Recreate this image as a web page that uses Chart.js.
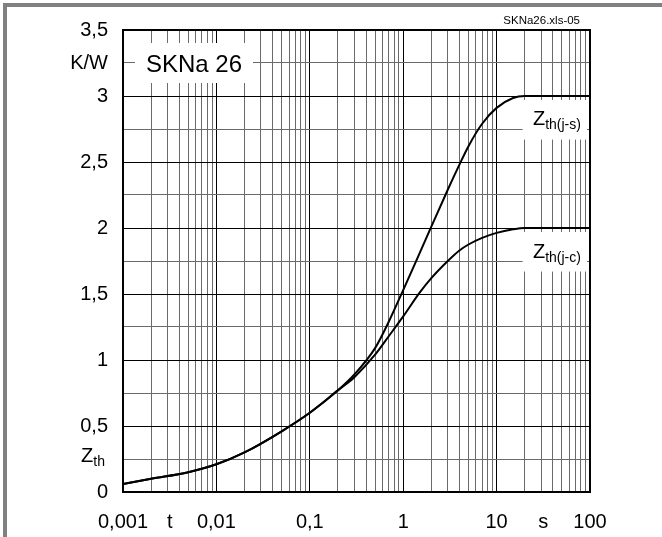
<!DOCTYPE html>
<html>
<head>
<meta charset="utf-8">
<script src="https://cdn.jsdelivr.net/npm/chart.js@4"></script>
<style>
  html, body { margin: 0; padding: 0; background: #fff; }
  #wrap { position: relative; width: 662px; height: 537px; overflow: hidden; }
  #frame { position: absolute; left: 3px; top: 3px; right: -10px; bottom: -10px;
           border-top: 4px solid #808080; border-left: 4px solid #808080; pointer-events: none; }
</style>
</head>
<body>
<div id="wrap">
  <canvas id="zthChart" width="662" height="537"></canvas>
  <div id="frame"></div>
</div>
<script>
(() => {

    // --------- data ---------
    const timeS  = [0.001, 0.002, 0.005, 0.01, 0.02, 0.05, 0.1, 0.2, 0.3, 0.5, 0.7, 1, 1.5, 2, 3, 4, 5, 7, 10, 15, 20, 50, 100];
    const zthJS  = [0.06, 0.10, 0.15, 0.21, 0.30, 0.46, 0.60, 0.77, 0.89, 1.09, 1.29, 1.53, 1.81, 2.01, 2.29, 2.48, 2.62, 2.79, 2.91, 2.985, 3.0, 3.0, 3.0];
    const zthJC  = [0.06, 0.10, 0.15, 0.21, 0.30, 0.46, 0.60, 0.77, 0.87, 1.04, 1.18, 1.33, 1.51, 1.62, 1.75, 1.83, 1.875, 1.925, 1.963, 1.99, 2.0, 2.0, 2.0];

    const xDecades   = [0.001, 0.01, 0.1, 1, 10, 100];
    const xDecLabels = ['0,001', '0,01', '0,1', '1', '10', '100'];
    const xUnitTicks = [0.00316, 31.6];     // where "t" and "s" sit
    const xUnitLabels = ['t', 's'];

    const FONT = '"Liberation Sans", Arial, sans-serif';

    const isDecade = v => Math.abs(Math.log10(v) - Math.round(Math.log10(v))) < 1e-6;

    // grid positions 1..9 per decade
    const gridTicks = [];
    for (let e = -3; e <= 1; e++) {
        for (let m = 1; m <= 9; m++) gridTicks.push(m * Math.pow(10, e));
    }
    gridTicks.push(100);

    const decor = {
        id: 'decor',
        beforeDraw(chart) {
            const c = chart.ctx;
            c.save();
            c.fillStyle = '#fff';
            c.fillRect(0, 0, chart.width, chart.height);
            c.restore();
        },
        beforeDatasetsDraw(chart) {
            const c = chart.ctx, x = chart.scales.x, y = chart.scales.y;
            c.save();
            c.fillStyle = '#fff';
            // SKNa 26 box
            c.fillRect(135, 43, 118, 40);
            // series label boxes
            const bx = x.getPixelForValue(19), bw = x.getPixelForValue(93) - bx;
            [[2.97, 2.67], [1.97, 1.67]].forEach(([t, b]) => {
                const top = y.getPixelForValue(t);
                c.fillRect(bx, top, bw, y.getPixelForValue(b) - top);
            });
            c.restore();
        },
        afterDraw(chart) {
            const c = chart.ctx, a = chart.chartArea, x = chart.scales.x, y = chart.scales.y;
            c.save();
            // plot frame
            c.strokeStyle = '#000';
            c.lineWidth = 2;
            c.strokeRect(a.left, a.top, a.right - a.left, a.bottom - a.top);

            c.fillStyle = '#000';
            c.textBaseline = 'alphabetic';

            // title box text
            c.font = '24px ' + FONT;
            c.textAlign = 'center';
            c.fillText('SKNa 26', 194, 72);

            // file tag
            c.font = '11.5px ' + FONT;
            c.textAlign = 'right';
            c.fillText('SKNa26.xls-05', 580, 24);

            // Z with subscript helper
            const zsub = (x0, yb, sub, big, small) => {
                c.textAlign = 'left';
                c.font = big + 'px ' + FONT;
                c.fillText('Z', x0, yb);
                const w = c.measureText('Z').width;
                c.font = small + 'px ' + FONT;
                c.fillText(sub, x0 + w, yb + 4);
            };
            const lx = x.getPixelForValue(24.5);
            zsub(lx, y.getPixelForValue(2.78), 'th(j-s)', 20, 14);
            zsub(lx, y.getPixelForValue(1.77), 'th(j-c)', 20, 14);

            // y axis quantity label Z_th (right aligned with tick labels)
            c.font = '20px ' + FONT;
            const wz = c.measureText('Z').width;
            c.font = '14px ' + FONT;
            const wt = c.measureText('th').width;
            zsub(105 - wz - wt, y.getPixelForValue(0.25) + 3, 'th', 20, 14);
            c.restore();
        }
    };

    const chartEl = document.getElementById('zthChart');
    new Chart(chartEl, {
        type: 'line',
        data: {
            datasets: [
                {
                    label: 'Zth(j-s)',
                    data: timeS.map((t, i) => ({ x: t, y: zthJS[i] })),
                    borderColor: '#000',
                    borderWidth: 2,
                    pointRadius: 0,
                    cubicInterpolationMode: 'monotone'
                },
                {
                    label: 'Zth(j-c)',
                    data: timeS.map((t, i) => ({ x: t, y: zthJC[i] })),
                    borderColor: '#000',
                    borderWidth: 2,
                    pointRadius: 0,
                    cubicInterpolationMode: 'monotone'
                }
            ]
        },
        options: {
            responsive: false,
            animation: false,
            layout: { padding: { left: 0, top: 30, right: 72, bottom: 0 } },
            plugins: { legend: { display: false }, tooltip: { enabled: false } },
            scales: {
                x: {
                    type: 'logarithmic',
                    min: 0.001,
                    max: 100,
                    afterBuildTicks: s => {
                        s.ticks = gridTicks.concat(xUnitTicks).map(v => ({ value: v }));
                    },
                    afterFit: s => { s.height = 45; },
                    grid: {
                        drawTicks: false,
                        lineWidth: 1,
                        color: ctx => {
                            const v = ctx.tick && ctx.tick.value;
                            if (!v || xUnitTicks.includes(v)) return 'rgba(0,0,0,0)';
                            return isDecade(v) ? '#000' : '#6a6a6a';
                        }
                    },
                    border: { display: false },
                    ticks: {
                        autoSkip: false,
                        maxRotation: 0,
                        padding: 18,
                        color: '#000',
                        font: { family: FONT, size: 20 },
                        callback: v => {
                            const i = xDecades.findIndex(d => Math.abs(d - v) / d < 1e-6);
                            if (i >= 0) return xDecLabels[i];
                            const j = xUnitTicks.indexOf(v);
                            return j >= 0 ? xUnitLabels[j] : '';
                        }
                    }
                },
                y: {
                    min: 0,
                    max: 3.5,
                    afterFit: s => { s.width = 123; },
                    grid: {
                        drawTicks: false,
                        lineWidth: 1,
                        color: ctx => {
                            const v = ctx.tick && ctx.tick.value;
                            return Math.abs(v * 2 - Math.round(v * 2)) < 1e-6 ? '#000' : '#6a6a6a';
                        }
                    },
                    border: { display: false },
                    ticks: {
                        stepSize: 0.25,
                        padding: 15,
                        color: '#000',
                        font: { family: FONT, size: 20 },
                        callback: v => {
                            if (Math.abs(v - 3.25) < 1e-6) return 'K/W';
                            if (Math.abs(v * 2 - Math.round(v * 2)) < 1e-6) return String(v).replace('.', ',');
                            return '';
                        }
                    }
                }
            }
        },
        plugins: [decor]
    });

})();
</script>
</body>
</html>
